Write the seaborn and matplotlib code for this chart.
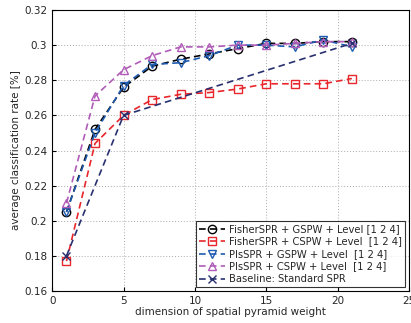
import numpy as np
import seaborn as sns
import matplotlib.pyplot as plt
import pandas as pd

dims = [1, 3, 5, 7, 9, 11, 13, 15, 17, 19, 21]
fisher_gspw = [0.205, 0.252, 0.276, 0.288, 0.292, 0.295, 0.298, 0.301, 0.301, 0.302, 0.302]
fisher_cspw = [0.177, 0.244, 0.260, 0.269, 0.272, 0.273, 0.275, 0.278, 0.278, 0.278, 0.281]
pls_gspw = [0.205, 0.250, 0.277, 0.289, 0.290, 0.294, 0.300, 0.300, 0.299, 0.303, 0.299]
pls_cspw = [0.210, 0.271, 0.286, 0.294, 0.299, 0.299, 0.300, 0.300, 0.301, 0.302, 0.302]
base_dims = [1, 5, 21]
baseline = [0.180, 0.260, 0.301]

labels = ['FisherSPR + GSPW + Level [1 2 4]',
          'FisherSPR + CSPW + Level  [1 2 4]',
          'PlsSPR + GSPW + Level  [1 2 4]',
          'PlsSPR + CSPW + Level  [1 2 4]',
          'Baseline: Standard SPR']

sns.set_style('ticks')
plt.rcParams.update({'font.size': 7.5, 'font.family': ['DejaVu Sans']})

fig = plt.figure(figsize=(4.11, 3.23), dpi=100)
ax = fig.add_axes([0.127, 0.099, 0.868, 0.870])

series = [
    (dims, fisher_gspw, 'black', 'o', labels[0]),
    (dims, fisher_cspw, '#e8262c', 's', labels[1]),
    (dims, pls_gspw, '#1f5bb0', 'v', labels[2]),
    (dims, pls_cspw, '#b05cb8', '^', labels[3]),
    (base_dims, baseline, '#283070', 'x', labels[4]),
]
for x, y, c, m, lab in series:
    df = pd.DataFrame({'x': x, 'y': y})
    sns.lineplot(data=df, x='x', y='y', ax=ax, color=c, marker=m, markersize=6,
                 markerfacecolor='none', markeredgecolor=c, markeredgewidth=1.0,
                 linestyle=(0, (4, 2.5)), linewidth=1.2, label=lab)

ax.set_xlim(0, 25)
ax.set_ylim(0.16, 0.32)
ax.set_xticks([0, 5, 10, 15, 20, 25])
ax.set_yticks(np.arange(0.16, 0.321, 0.02))
ax.set_yticklabels(['0.16', '0.18', '0.2', '0.22', '0.24', '0.26', '0.28', '0.3', '0.32'])
ax.grid(True, linestyle=(0, (1, 2)), color='#aaaaaa', linewidth=0.7)
ax.tick_params(direction='in', labelsize=7.5, color='black', length=3)
for s in ax.spines.values():
    s.set_color('black')
    s.set_linewidth(0.8)
ax.set_xlabel('dimension of spatial pyramid weight', fontsize=7.5, labelpad=1)
ax.set_ylabel('average classification rate [%]', fontsize=7.5, labelpad=2)

leg = ax.legend(loc='lower right', fontsize=7.2, frameon=True, fancybox=False,
                handlelength=2.6, borderaxespad=0.4, labelspacing=0.25,
                borderpad=0.3, handletextpad=0.4)
leg.get_frame().set_edgecolor('black')
leg.get_frame().set_linewidth(0.8)

plt.savefig('out.png', dpi=100)
